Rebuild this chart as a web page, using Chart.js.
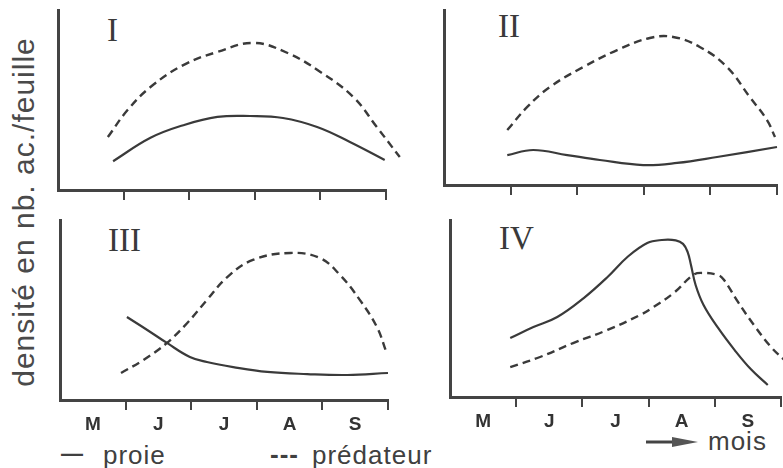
<!DOCTYPE html>
<html>
<head>
<meta charset="utf-8">
<script src="https://cdn.jsdelivr.net/npm/chart.js@4"></script>
<style>
  body { margin: 0; background: #fff; width: 783px; height: 468px; overflow: hidden; position: relative;
         font-family: "Liberation Sans", Arial, sans-serif; color: #404040; }
  .panel { position: absolute; }
  .num { position: absolute; font-family: "Liberation Serif", serif; font-size: 33px; line-height: 33px; color: #3a3a3a; }
  .txt { position: absolute; font-size: 26px; line-height: 26px; letter-spacing: 1px; white-space: nowrap; }
  #ytitle { position: absolute; left: 24px; top: 212px; font-size: 30px; letter-spacing: 1px; white-space: nowrap;
            color: #4a4a4a; transform: translate(-50%, -50%) rotate(-90deg); }
</style>
</head>
<body>
<div id="ytitle">densité en nb. ac./feuille</div>
<div class="num" style="left:107px; top:14px">I</div>
<div class="num" style="left:498px; top:10px">II</div>
<div class="num" style="left:108px; top:224px">III</div>
<div class="num" style="left:499px; top:222px">IV</div>
<div class="txt" style="left:61px; top:441px; font-weight:bold; font-size:22px">—</div>
<div class="txt" style="left:103px; top:442px">proie</div>
<div class="txt" style="left:270px; top:441px; font-weight:bold">---</div>
<div class="txt" style="left:312px; top:442px">prédateur</div>
<svg style="position:absolute; left:646px; top:436px" width="54" height="12">
  <line x1="0" y1="6" x2="32" y2="6" stroke="#444" stroke-width="3"/>
  <polygon points="26,1 52,6 26,11" fill="#555"/>
</svg>
<div class="txt" style="left:708px; top:428px">mois</div>
<script>
// mois en abscisse : 0 = début mai, 1 = début juin ... 5 = fin septembre
var months = ["M", "J", "J", "A", "S"];

// [mois, densité relative 0-100]
var proieI = [[0.84, 16], [1.41, 29], [1.91, 36], [2.43, 40.6], [2.93, 41.1], [3.43, 40], [3.95, 35], [4.45, 26.7], [4.98, 16.7]];
var predI = [[0.76, 29.4], [1.06, 44.4], [1.41, 57.2], [1.91, 69.4], [2.43, 76.7], [2.98, 81.7], [3.5, 76.1], [4.0, 65.6], [4.5, 51.7], [4.86, 35], [5.21, 18.3]];

var proieII = [[0.95, 17.1], [1.34, 20], [1.85, 17.1], [2.34, 14.3], [2.99, 11.4], [3.5, 12.6], [4.1, 16], [5.0, 21.7]];
var predII = [[0.95, 31.4], [1.25, 44.6], [1.59, 56], [2.09, 67.4], [2.6, 77.1], [3.09, 84], [3.44, 84.6], [3.84, 78.9], [4.25, 67.4], [4.59, 50.3], [4.85, 37.1], [4.97, 27.4]];

var proieIII = [[1.02, 46.1], [1.33, 38.9], [1.63, 31.7], [1.98, 23.9], [2.24, 21.1], [2.64, 18.3], [3.16, 15.6], [3.77, 14.4], [4.38, 13.9], [5.0, 15]];
var predIII = [[0.93, 15], [1.27, 22.2], [1.63, 31.7], [1.94, 42.8], [2.24, 55.6], [2.55, 68.3], [2.94, 77.8], [3.51, 81.7], [3.96, 78.9], [4.27, 69.4], [4.57, 55.6], [4.83, 40.6], [4.98, 26.1]];

var proieIV = [[0.91, 33.3], [1.26, 39.5], [1.62, 45.2], [2.02, 55.9], [2.38, 67.8], [2.68, 79.1], [2.98, 87], [3.2, 88.7], [3.41, 88.5],
  [3.52, 86.5], [3.59, 81.9], [3.64, 74.6], [3.71, 63.3], [3.83, 52], [4.05, 39], [4.3, 26.5], [4.55, 15.5], [4.8, 6.8]];
var predIV = [[0.91, 16.9], [1.36, 22.6], [1.86, 30.5], [2.38, 37.9], [2.88, 46.5], [3.08, 51], [3.38, 58.8], [3.67, 68.9], [3.79, 70.1],
  [4.05, 68.9], [4.14, 66.1], [4.35, 53.7], [4.59, 40.7], [4.85, 28.2], [5.05, 20.9]];

var ink = "#3a3a3a";
var PAD_L = 6, PAD_T = 6, PAD_R = 24, AXIS_H = 42;

// where each little graph sits on the page
var panels = [
  { proie: proieI, pred: predI, labels: false, left: 58, right: 386, top: 10, bottom: 190 },
  { proie: proieII, pred: predII, labels: false, left: 444, right: 777, top: 10, bottom: 185 },
  { proie: proieIII, pred: predIII, labels: true, left: 60, right: 388, top: 220, bottom: 400 },
  { proie: proieIV, pred: predIV, labels: true, left: 450, right: 781, top: 220, bottom: 397 }
];

function pts(arr) {
  return arr.map(function (p) { return { x: p[0], y: p[1] }; });
}

panels.forEach(function (p) {
  var cv = document.createElement("canvas");
  cv.width = PAD_L + (p.right - p.left) + PAD_R;
  cv.height = PAD_T + (p.bottom - p.top) + AXIS_H;
  cv.className = "panel";
  cv.style.left = (p.left - PAD_L) + "px";
  cv.style.top = (p.top - PAD_T) + "px";
  document.body.appendChild(cv);

  new Chart(cv, {
    type: "line",
    data: {
      datasets: [
        { label: "proie", data: pts(p.proie), borderColor: ink, borderWidth: 2.2, pointRadius: 0,
          tension: 0.4, clip: false },
        { label: "prédateur", data: pts(p.pred), borderColor: ink, borderWidth: 2.4, borderDash: [8, 5],
          pointRadius: 0, tension: 0.4, clip: false }
      ]
    },
    options: {
      responsive: false,
      animation: false,
      events: [],
      layout: { padding: { left: PAD_L, top: PAD_T, right: PAD_R, bottom: 0 } },
      plugins: { legend: { display: false }, tooltip: { enabled: false } },
      scales: {
        x: {
          type: "linear", min: 0, max: 5,
          afterFit: function (s) { s.height = AXIS_H; },
          ticks: {
            stepSize: 0.5, autoSkip: false, maxRotation: 0, padding: 3, color: "#333",
            font: { family: "Liberation Sans", size: 19, weight: "bold" },
            callback: function (v) { return (p.labels && v % 1 !== 0) ? months[Math.floor(v)] : ""; }
          },
          grid: {
            drawOnChartArea: false, drawTicks: true, tickLength: 10, lineWidth: 2,
            color: function (c) {
              return (c.tick && c.tick.value % 1 === 0 && c.tick.value > 0) ? "#444" : "rgba(0,0,0,0)";
            }
          },
          border: { display: true, color: "#444", width: 3 }
        },
        y: {
          min: 0, max: 100,
          afterFit: function (s) { s.width = 0; },
          ticks: { display: false },
          grid: { display: false },
          border: { display: true, color: "#444", width: 3 }
        }
      }
    }
  });
});
</script>
</body>
</html>
